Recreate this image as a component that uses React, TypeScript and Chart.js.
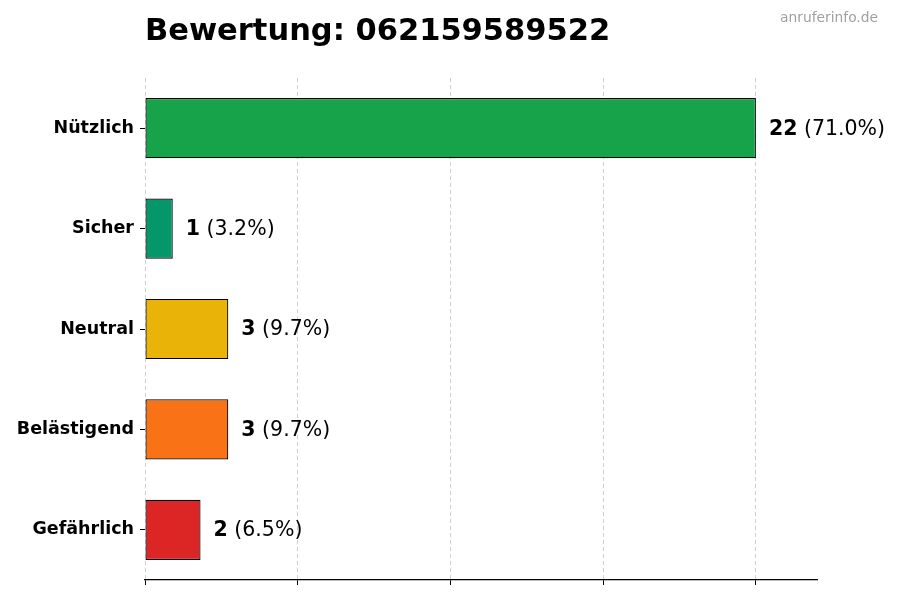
import React, { useEffect, useRef } from "react";
import { Chart, registerables } from "chart.js";

Chart.register(...registerables);

const categories = ["Nützlich", "Sicher", "Neutral", "Belästigend", "Gefährlich"];
const counts = [22, 1, 3, 3, 2];
const percentLabels = ["71.0%", "3.2%", "9.7%", "9.7%", "6.5%"];
const barColors = ["#16a34a", "#059669", "#eab308", "#f97316", "#dc2626"];
const xTickValues = [0, 5.5, 11, 16.5, 22];
const xMax = 24.2;
const titleText = "Bewertung: 062159589522";
const watermarkText = "anruferinfo.de";

const FONT = "'DejaVu Sans', sans-serif";

export default function App() {
  const ref = useRef<HTMLCanvasElement | null>(null);

  useEffect(() => {
    document.body.style.margin = "0";
    const canvas = ref.current;
    if (!canvas) return;

    const labelPlugin = {
      id: "valueLabels",
      afterDatasetsDraw(chart: any) {
        const ctx = chart.ctx;
        const meta = chart.getDatasetMeta(0);
        ctx.save();
        ctx.textBaseline = "middle";
        ctx.fillStyle = "#000";
        meta.data.forEach((bar: any, i: number) => {
          const x = bar.x + 13;
          const y = bar.y + 1;
          ctx.font = `bold 20.5px ${FONT}`;
          const num = String(counts[i]);
          ctx.fillText(num, x, y);
          const w = ctx.measureText(num).width;
          ctx.font = `20.5px ${FONT}`;
          ctx.fillText(" (" + percentLabels[i] + ")", x + w, y);
        });
        ctx.restore();
      },
      afterDraw(chart: any) {
        const ctx = chart.ctx;
        ctx.save();
        ctx.textBaseline = "alphabetic";
        ctx.fillStyle = "#000";
        ctx.font = `bold 30.5px ${FONT}`;
        ctx.textAlign = "left";
        ctx.fillText(titleText, chart.chartArea.left, 40);
        ctx.fillStyle = "#a0a0a0";
        ctx.font = `13.8px ${FONT}`;
        ctx.textAlign = "right";
        ctx.fillText(watermarkText, 878, 22);
        ctx.restore();
      },
    };

    const chart = new Chart(canvas, {
      type: "bar",
      data: {
        labels: categories,
        datasets: [
          {
            data: counts,
            backgroundColor: barColors,
            borderColor: "#000",
            borderWidth: 1.2,
            borderSkipped: false,
            barPercentage: 0.6,
            categoryPercentage: 1,
          },
        ],
      },
      options: {
        indexAxis: "y",
        animation: false,
        responsive: false,
        devicePixelRatio: 1,
        layout: { padding: { top: 78, right: 83, left: 0, bottom: 0 } },
        plugins: {
          legend: { display: false },
          tooltip: { enabled: false },
          title: { display: false },
        },
        scales: {
          x: {
            type: "linear",
            min: 0,
            max: xMax,
            afterBuildTicks(scale: any) {
              scale.ticks = xTickValues.map((v) => ({ value: v }));
            },
            afterFit(scale: any) {
              scale.height = 20;
            },
            ticks: {
              callback: () => "",
              padding: 0,
            },
            grid: {
              color: "#d0d0d0",
              lineWidth: 1,
              tickColor: "#000",
              tickLength: 5,
              tickBorderDash: [],
              tickWidth: 1,
            },
            border: { display: true, color: "#000", width: 1.2, dash: [4, 3] },
          },
          y: {
            type: "category",
            afterFit(scale: any) {
              scale.width = 145;
            },
            ticks: {
              color: "#000",
              font: { family: FONT, size: 17.5, weight: "bold" },
              padding: 6,
            },
            grid: {
              offset: false,
              drawOnChartArea: false,
              tickColor: "#000",
              tickLength: 5,
              tickWidth: 1,
            },
            border: { display: false },
          },
        },
      } as any,
      plugins: [labelPlugin],
    });

    return () => chart.destroy();
  }, []);

  return (
    <div style={{ width: 900, height: 600, background: "#fff" }}>
      <canvas ref={ref} width={900} height={600} style={{ display: "block" }} />
    </div>
  );
}
